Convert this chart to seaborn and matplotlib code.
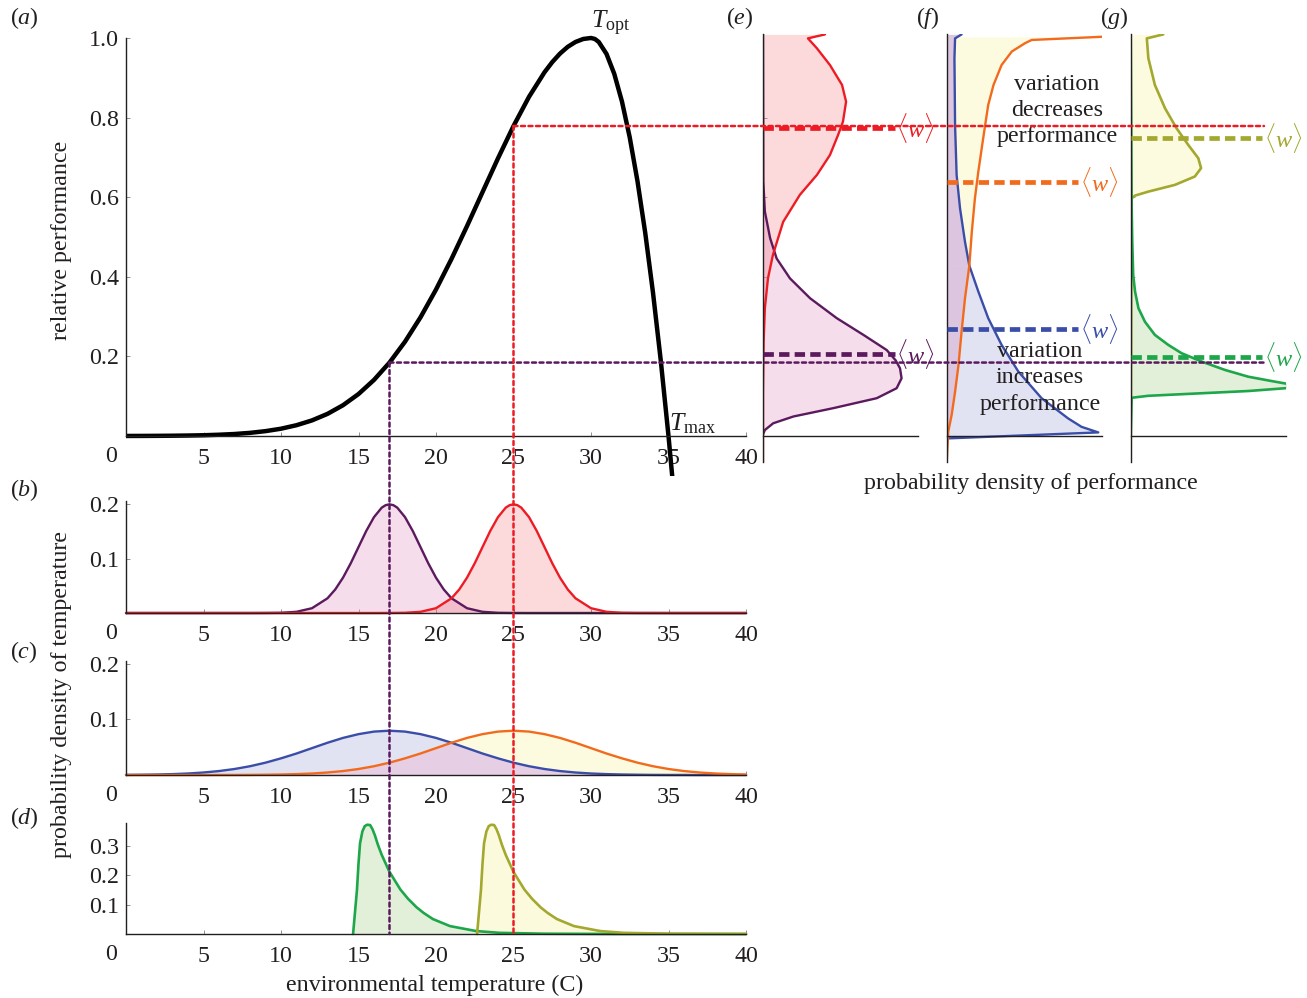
import numpy as np
import matplotlib
matplotlib.use("Agg")
import matplotlib.pyplot as plt
from matplotlib.patches import ConnectionPatch
import seaborn as sns

# ---- values ----
# (a) thermal performance curve
perf_temp = [0, 1, 2, 3, 4, 5, 6, 7, 8, 9, 10, 11, 12, 13, 14, 15, 16, 17, 18, 19, 20,
             21, 22, 23, 24, 25, 26, 27, 27.5, 28, 28.5, 29, 29.5, 30, 30.25, 30.5, 31,
             31.5, 32, 32.5, 33, 33.5, 34, 34.5, 35, 35.5]
perf_val = [0.0001, 0.0002, 0.0004, 0.0007, 0.0012, 0.0019, 0.0032, 0.0050, 0.0079,
            0.0122, 0.0183, 0.0271, 0.0392, 0.0556, 0.0773, 0.1054, 0.1409, 0.1845,
            0.2369, 0.2982, 0.3679, 0.4449, 0.5273, 0.6126, 0.6977, 0.7788, 0.8521,
            0.9139, 0.9394, 0.9608, 0.9778, 0.9900, 0.9975, 1.0, 0.9975, 0.99, 0.96,
            0.91, 0.84, 0.75, 0.64, 0.51, 0.36, 0.19, 0.0, -0.21]

# (b) narrow temperature distributions
narrow_cool_T = [0, 5, 8, 9, 10, 11, 12, 13, 13.5, 14, 14.5, 15, 15.5, 16, 16.5, 16.75, 17,
                 17.25, 17.5, 18, 18.5, 19, 19.5, 20, 20.5, 21, 22, 23, 24, 25, 26, 30, 40]
narrow_cool_pdf = [0, 0, 0, 0.0001, 0.0004, 0.0022, 0.0088, 0.0270, 0.0432, 0.0648, 0.0913,
                   0.1210, 0.1506, 0.1760, 0.1934, 0.1979, 0.1995, 0.1979, 0.1934, 0.1760,
                   0.1506, 0.1210, 0.0913, 0.0648, 0.0432, 0.0270, 0.0088, 0.0022, 0.0004,
                   0.0001, 0, 0, 0]
narrow_warm_T = [0, 10, 15, 16, 17, 18, 19, 20, 21, 21.5, 22, 22.5, 23, 23.5, 24, 24.5,
                 24.75, 25, 25.25, 25.5, 26, 26.5, 27, 27.5, 28, 28.5, 29, 30, 31, 32, 33,
                 35, 40]
narrow_warm_pdf = [0, 0, 0, 0, 0.0001, 0.0004, 0.0022, 0.0088, 0.0270, 0.0432, 0.0648,
                   0.0913, 0.1210, 0.1506, 0.1760, 0.1934, 0.1979, 0.1995, 0.1979, 0.1934,
                   0.1760, 0.1506, 0.1210, 0.0913, 0.0648, 0.0432, 0.0270, 0.0088, 0.0022,
                   0.0004, 0.0001, 0, 0]

# (c) wide temperature distributions
wide_T = list(range(0, 41))
wide_cool_pdf = [0.0002, 0.0005, 0.0009, 0.0016, 0.0027, 0.0045, 0.0071, 0.0108, 0.0158,
                 0.0222, 0.0300, 0.0387, 0.0484, 0.0581, 0.0668, 0.0736, 0.0782, 0.0798,
                 0.0782, 0.0736, 0.0668, 0.0581, 0.0484, 0.0387, 0.0300, 0.0222, 0.0158,
                 0.0108, 0.0071, 0.0045, 0.0027, 0.0016, 0.0009, 0.0005, 0.0002, 0.0001,
                 0.0001, 0, 0, 0, 0]
wide_warm_pdf = [0, 0, 0, 0, 0, 0, 0.0001, 0.0001, 0.0002, 0.0005, 0.0009, 0.0016, 0.0027,
                 0.0045, 0.0071, 0.0108, 0.0158, 0.0222, 0.0300, 0.0387, 0.0484, 0.0581,
                 0.0668, 0.0736, 0.0782, 0.0798, 0.0782, 0.0736, 0.0668, 0.0581, 0.0484,
                 0.0387, 0.0300, 0.0222, 0.0158, 0.0108, 0.0071, 0.0045, 0.0027, 0.0016,
                 0.0009]

# (d) skewed temperature distributions
skew_cool_T = [14.65, 14.8, 14.9, 15.0, 15.1, 15.25, 15.4, 15.55, 15.75, 15.9, 16.05, 16.25,
               16.5, 17.0, 17.7, 18.2, 18.75, 19.2, 19.8, 20.9, 22.6, 24.1, 27.0, 32.0, 40.0]
skew_cool_pdf = [0, 0.09, 0.15, 0.24, 0.31, 0.35, 0.368, 0.373, 0.372, 0.358, 0.338, 0.305,
                 0.27, 0.212, 0.152, 0.12, 0.091, 0.072, 0.051, 0.027, 0.010, 0.004, 0.001,
                 0, 0]
skew_warm_T = [22.65, 22.8, 22.9, 23.0, 23.1, 23.25, 23.4, 23.55, 23.75, 23.9, 24.05, 24.25,
               24.5, 25.0, 25.7, 26.2, 26.75, 27.2, 27.8, 28.9, 30.6, 32.1, 35.0, 40.0]
skew_warm_pdf = [0, 0.09, 0.15, 0.24, 0.31, 0.35, 0.368, 0.373, 0.372, 0.358, 0.338, 0.305,
                 0.27, 0.212, 0.152, 0.12, 0.091, 0.072, 0.051, 0.027, 0.010, 0.004, 0.001,
                 0]

# (e) performance densities for (b)
e_warm_perf = [1.009, 0.999, 0.974, 0.932, 0.882, 0.84, 0.79, 0.756, 0.706, 0.656, 0.606,
               0.538, 0.455, 0.396, 0.321, 0.237, 0.111, 0.0, -0.065]
e_warm_dens = [2.0, 1.45, 1.74, 2.16, 2.55, 2.68, 2.58, 2.42, 2.16, 1.74, 1.19, 0.65, 0.32,
               0.16, 0.06, 0.02, 0, 0, 0]
e_cool_perf = [1.01, 0.639, 0.564, 0.497, 0.446, 0.396, 0.346, 0.296, 0.254, 0.216, 0.190,
               0.170, 0.145, 0.120, 0.095, 0.070, 0.049, 0.032, 0.015, 0.004]
e_cool_dens = [0, 0.01, 0.06, 0.23, 0.44, 0.87, 1.52, 2.38, 3.24, 3.99, 4.28, 4.42, 4.47,
               4.31, 3.67, 2.27, 0.98, 0.33, 0.06, 0]

# (f) performance densities for (c)
f_cool_perf = [1.009, 0.999, 0.949, 0.781, 0.656, 0.572, 0.488, 0.428, 0.363, 0.296, 0.229,
               0.162, 0.095, 0.044, 0.023, 0.009, -0.006]
f_cool_dens = [0.48, 0.27, 0.25, 0.27, 0.32, 0.43, 0.59, 0.73, 1.02, 1.34, 1.77, 2.31, 3.06,
               3.92, 4.35, 4.89, 0.05]
f_warm_perf = [1.003, 0.995, 0.987, 0.966, 0.932, 0.882, 0.832, 0.781, 0.723, 0.664, 0.597,
               0.513, 0.428, 0.346, 0.262, 0.178, 0.111, 0.053, 0.011, -0.065]
f_warm_dens = [5.0, 2.74, 2.53, 2.10, 1.77, 1.51, 1.34, 1.24, 1.13, 1.02, 0.91, 0.81, 0.73,
               0.59, 0.48, 0.38, 0.27, 0.16, 0.05, 0]
f_cross = 0.428

# (g) performance densities for (d)
g_warm_perf = [1.009, 0.999, 0.949, 0.882, 0.823, 0.773, 0.731, 0.698, 0.673, 0.652, 0.631,
               0.614, 0.604, 0.597, -0.065]
g_warm_dens = [1.05, 0.52, 0.57, 0.78, 1.11, 1.48, 1.86, 2.18, 2.27, 2.07, 1.43, 0.57, 0.14,
               0.03, 0]
g_cool_perf = [1.01, 0.580, 0.488, 0.405, 0.363, 0.321, 0.287, 0.254, 0.229, 0.208, 0.187,
               0.166, 0.149, 0.138, 0.132, 0.126, 0.120, 0.113, 0.107, 0.101, 0.096, 0.0]
g_cool_dens = [0, 0.03, 0.05, 0.08, 0.14, 0.25, 0.46, 0.78, 1.21, 1.64, 2.29, 3.04, 3.79,
               4.55, 4.98, 5.6, 4.98, 3.79, 2.18, 0.57, 0.03, 0]

# mean performance <w>
w_e = [0.774, 0.205]
w_f = [0.269, 0.639]
w_g = [0.199, 0.748]

RED, PURPLE = "#ed1c24", "#5b1a5e"
BLUE, ORANGE = "#3a4ea8", "#f26b1d"
GREEN, OLIVE = "#1ea64a", "#a3a82e"
INK = "#231f20"
FS = 17.3

sns.set_theme(style="white")
plt.rcParams["font.family"] = ["Liberation Serif", "DejaVu Serif"]
plt.rcParams["mathtext.fontset"] = "custom"
plt.rcParams["mathtext.rm"] = "Liberation Serif"
plt.rcParams["mathtext.it"] = "Liberation Serif:italic"
plt.rcParams["font.size"] = FS
plt.rcParams["text.color"] = INK

W, H = 1307, 998
fig = plt.figure(figsize=(W / 100, H / 100), dpi=100)


def box(l, t, r, b):
    return [l / W, 1 - b / H, (r - l) / W, (b - t) / H]


ax_a = fig.add_axes(box(126, 34.0, 746, 475.8))
ax_b = fig.add_axes(box(126, 501.3, 746, 613))
ax_c = fig.add_axes(box(126, 661.2, 746, 775))
ax_d = fig.add_axes(box(126, 822.7, 746, 934))
ax_e = fig.add_axes(box(763, 34.0, 918, 475.8))
ax_f = fig.add_axes(box(946.7, 34.0, 1101.7, 475.8))
ax_g = fig.add_axes(box(1130.7, 34.0, 1285.7, 475.8))

for ax in fig.axes:
    ax.set_facecolor("none")
    for s in ["top", "right"]:
        ax.spines[s].set_visible(False)
    for s in ["left", "bottom"]:
        ax.spines[s].set_color(INK)
        ax.spines[s].set_linewidth(1.0)


def temp_axis(ax, ylim, yticks, ylabels):
    ax.set_xlim(0, 40)
    ax.set_ylim(*ylim)
    ax.set_xticks(range(5, 41, 5))
    ax.set_xticklabels([str(t) for t in range(5, 41, 5)])
    ax.set_yticks(yticks)
    ax.set_yticklabels(ylabels)
    ax.tick_params(axis="both", bottom=True, left=True, direction="in", length=3,
                   width=0.6, color="0.5", labelsize=FS, labelcolor=INK)
    ax.tick_params(axis="x", pad=8.5)
    ax.tick_params(axis="y", pad=5)
    # the lone "0" sits left of the origin in the original
    ax.annotate("0", xy=(0, 0), xycoords="data", xytext=(-11, -15),
                textcoords="offset points", ha="center", va="center", fontsize=FS,
                annotation_clip=False)
    ax.set(xlabel="", ylabel="")


# ---- (a) ----
sns.lineplot(x=perf_temp, y=perf_val, ax=ax_a, color="black", lw=3.2, sort=False, estimator=None)
temp_axis(ax_a, (-0.1, 1.01), [0.2, 0.4, 0.6, 0.8, 1.0], ["0.2", "0.4", "0.6", "0.8", "1.0"])
ax_a.spines["bottom"].set_position(("data", 0))
ax_a.spines["left"].set_bounds(0, 1.0)
ax_a.text(30.0, 1.0, r"$T_{\mathrm{opt}}$", ha="left", va="bottom", fontsize=18.5, clip_on=False)
ax_a.text(35.05, 0.0, r"$T_{\mathrm{max}}$", ha="left", va="bottom", fontsize=18.5, clip_on=False)

# ---- (b) ----
ax_b.fill_between(narrow_cool_T, narrow_cool_pdf, color="#e8a0c8", alpha=0.35, lw=0)
ax_b.fill_between(narrow_warm_T, narrow_warm_pdf, color=RED, alpha=0.16, lw=0)
sns.lineplot(x=narrow_cool_T, y=narrow_cool_pdf, ax=ax_b, color=PURPLE, lw=1.7, estimator=None)
sns.lineplot(x=narrow_warm_T, y=narrow_warm_pdf, ax=ax_b, color=RED, lw=1.7, estimator=None)
temp_axis(ax_b, (0, 0.205), [0.1, 0.2], ["0.1", "0.2"])

# ---- (c) ----
ax_c.fill_between(wide_T, wide_cool_pdf, color="#e1e2f2", lw=0)
ax_c.fill_between(wide_T, wide_warm_pdf, color="#fdfbdf", lw=0)
ax_c.fill_between(wide_T, np.minimum(wide_cool_pdf, wide_warm_pdf), color="#e6cfe4", lw=0)
sns.lineplot(x=wide_T, y=wide_cool_pdf, ax=ax_c, color=BLUE, lw=1.7, estimator=None)
sns.lineplot(x=wide_T, y=wide_warm_pdf, ax=ax_c, color=ORANGE, lw=1.7, estimator=None)
temp_axis(ax_c, (0, 0.205), [0.1, 0.2], ["0.1", "0.2"])

# ---- (d) ----
ax_d.fill_between(skew_cool_T, skew_cool_pdf, color="#e2f0da", lw=0)
ax_d.fill_between(skew_warm_T, skew_warm_pdf, color="#fcfadc", lw=0)
sns.lineplot(x=skew_cool_T, y=skew_cool_pdf, ax=ax_d, color=GREEN, lw=1.9, estimator=None)
sns.lineplot(x=skew_warm_T, y=skew_warm_pdf, ax=ax_d, color=OLIVE, lw=1.9, estimator=None)
temp_axis(ax_d, (0, 0.38), [0.1, 0.2, 0.3], ["0.1", "0.2", "0.3"])

for ax in (ax_b, ax_c, ax_d):
    for ln in ax.lines:
        ln.set_clip_on(False)


# ---- (e), (f), (g) ----
def perf_axis(ax):
    ax.set_xlim(0, 5)
    ax.set_ylim(-0.1, 1.01)
    ax.spines["bottom"].set_position(("data", 0))
    ax.spines["left"].set_bounds(-0.065, 1.01)
    ax.set_xticks([])
    ax.set_yticks([0.2, 0.4, 0.6, 0.8])
    ax.set_yticklabels([])
    ax.tick_params(axis="y", left=True, direction="in", length=3, width=0.6, color="0.6")
    ax.set(xlabel="", ylabel="")


def mean_line(ax, w, color):
    ax.axhline(w, xmin=0, xmax=0.85, color=color, lw=3.4, ls=(0, (2.2, 1.1)), zorder=4)
    ax.annotate(r"$\langle w\rangle$", xy=(0.85, w), xycoords=("axes fraction", "data"),
                xytext=(1, 0), textcoords="offset points", ha="left", va="center",
                color=color, fontsize=17.5, annotation_clip=False)


ax_e.fill_betweenx(e_cool_perf, 0, e_cool_dens, color="#e8a0c8", alpha=0.35, lw=0)
ax_e.fill_betweenx(e_warm_perf, 0, e_warm_dens, color=RED, alpha=0.16, lw=0)
sns.lineplot(x=e_cool_dens, y=e_cool_perf, ax=ax_e, color=PURPLE, lw=1.7, sort=False, estimator=None)
sns.lineplot(x=e_warm_dens, y=e_warm_perf, ax=ax_e, color=RED, lw=1.7, sort=False, estimator=None)
perf_axis(ax_e)
mean_line(ax_e, w_e[0], RED)
mean_line(ax_e, w_e[1], PURPLE)

fc_p, fc_d = np.array(f_cool_perf), np.array(f_cool_dens)
fw_p, fw_d = np.array(f_warm_perf), np.array(f_warm_dens)
ax_f.fill_betweenx(fw_p, 0, fw_d, color="#fdfbdf", lw=0)
ax_f.fill_betweenx(fc_p, 0, fc_d, color="#e1e2f2", lw=0)
ax_f.fill_betweenx(fc_p, 0, fc_d, where=fc_p >= f_cross, color="#dcc5de", lw=0)
ax_f.fill_betweenx(fw_p, 0, fw_d, where=fw_p <= f_cross, color="#dcc5de", lw=0)
sns.lineplot(x=f_cool_dens, y=f_cool_perf, ax=ax_f, color=BLUE, lw=1.7, sort=False, estimator=None)
sns.lineplot(x=f_warm_dens, y=f_warm_perf, ax=ax_f, color=ORANGE, lw=1.7, sort=False, estimator=None)
perf_axis(ax_f)
mean_line(ax_f, w_f[0], BLUE)
mean_line(ax_f, w_f[1], ORANGE)
ax_f.text(3.56, 0.817, "variation\ndecreases\nperformance", ha="center", va="center",
          fontsize=FS, linespacing=1.32, zorder=6)
ax_f.text(3.01, 0.146, "variation\nincreases\nperformance", ha="center", va="center",
          fontsize=FS, linespacing=1.32, zorder=6)

ax_g.fill_betweenx(g_warm_perf, 0, g_warm_dens, color="#fdfbdf", lw=0)
ax_g.fill_betweenx(g_cool_perf, 0, g_cool_dens, color="#e2f0da", lw=0)
sns.lineplot(x=g_warm_dens, y=g_warm_perf, ax=ax_g, color=OLIVE, lw=1.9, sort=False, estimator=None)
sns.lineplot(x=g_cool_dens, y=g_cool_perf, ax=ax_g, color=GREEN, lw=1.9, sort=False, estimator=None)
perf_axis(ax_g)
mean_line(ax_g, w_g[0], GREEN)
mean_line(ax_g, w_g[1], OLIVE)

# ---- dotted guides linking temperature means to performance ----
dots = (0, (1.6, 1.4))
for t_mean, color in [(17, PURPLE), (25, RED)]:
    p = perf_val[perf_temp.index(t_mean)]
    vert = ConnectionPatch(xyA=(t_mean, p), coordsA=ax_a.transData,
                           xyB=(t_mean, 0), coordsB=ax_d.transData,
                           color=color, lw=1.8, ls=dots, zorder=10)
    horiz = ConnectionPatch(xyA=(t_mean, p), coordsA=ax_a.transData,
                            xyB=(4.3, p), coordsB=ax_g.transData,
                            color=color, lw=1.8, ls=dots, zorder=10)
    fig.add_artist(vert)
    fig.add_artist(horiz)

# ---- panel letters and axis titles ----
for letter, (x, y) in {"a": (24, 18), "b": (24, 490), "c": (24, 652), "d": (24, 818),
                       "e": (740, 18), "f": (928, 18), "g": (1114, 18)}.items():
    fig.text(x / W, 1 - y / H, f"(${letter}$)", ha="center", va="center", fontsize=FS)

fig.text(62 / W, 1 - 240 / H, "relative performance", rotation=90, ha="center", va="center",
         fontsize=FS)
fig.text(62 / W, 1 - 695 / H, "probability density of temperature", rotation=90,
         ha="center", va="center", fontsize=FS)
fig.text(435 / W, 1 - 985 / H, "environmental temperature (C)", ha="center", va="center",
         fontsize=FS)
fig.text(1031 / W, 1 - 484 / H, "probability density of performance", ha="center",
         va="center", fontsize=FS)

fig.savefig("out.png", dpi=100)
